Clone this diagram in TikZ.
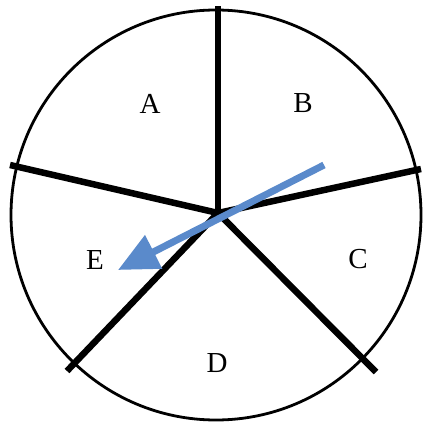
\documentclass[tikz,border=0pt]{standalone}
\usepackage{fontspec}
\setmainfont{Liberation Serif}
\usetikzlibrary{arrows.meta,positioning,calc}
\definecolor{pointer}{HTML}{5A8ACB}
\begin{document}
\begin{tikzpicture}[x=1pt,y=-1pt,
  rim/.style={draw,line width=2.8pt},
  spoke/.style={draw,line width=6.5pt},
  label/.style={font=\fontsize{29}{34}\selectfont,inner sep=0pt},
  pointerarrow/.style={-{Triangle[length=40pt,width=36pt]},line width=7pt,draw=pointer}
]
\useasboundingbox (0,0) rectangle (425,427);
\coordinate (o) at (218,213);
\coordinate (top) at (218,6);
\coordinate (lft) at (10,165);
\coordinate (rgt) at (421,169);
\coordinate (lwl) at (67,371);
\coordinate (lwr) at (376,372);
\draw[rim] (216,215) circle (205);
\draw[spoke] (o) -- (top);
\draw[spoke] (o) -- (lft);
\draw[spoke] (o) -- (rgt);
\draw[spoke] (o) -- (lwl);
\draw[spoke] (o) -- (lwr);
\node[label] (A) at (150,104) {A};
\node[label] (B) at (303,103) {B};
\node[label] (C) at (358,259) {C};
\node[label] (D) at (217,363) {D};
\node[label] (E) at (95,260) {E};
\coordinate (tail) at (324,165);
\coordinate (tip) at (118,270);
\draw[pointerarrow] (tail) -- (tip);
\end{tikzpicture}
\end{document}
